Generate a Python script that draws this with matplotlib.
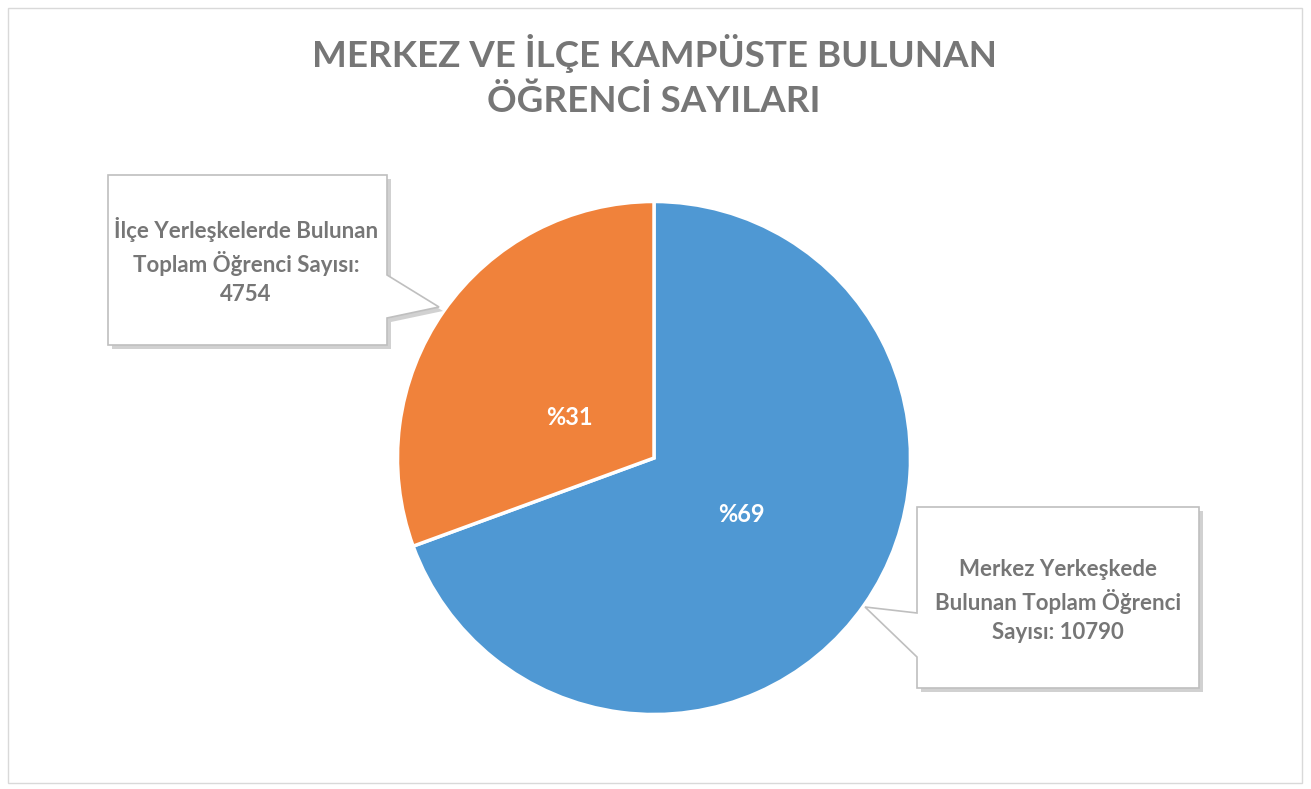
import matplotlib.pyplot as plt
from matplotlib.patches import Polygon, Rectangle

plt.rcParams['font.family'] = ['Lato', 'DejaVu Sans']

title = "MERKEZ VE İLÇE KAMPÜSTE BULUNAN\nÖĞRENCİ SAYILARI"
categories = ["Merkez Yerkeşkede Bulunan Toplam Öğrenci Sayısı",
              "İlçe Yerleşkelerde Bulunan Toplam Öğrenci Sayısı"]
values = [10790, 4754]
pct_labels = ["%69", "%31"]
callout_text = ["Merkez Yerkeşkede\nBulunan Toplam Öğrenci\nSayısı: 10790",
                "İlçe Yerleşkelerde Bulunan\nToplam Öğrenci Sayısı:\n4754"]
colors = ['#4F98D3', '#F0823B']
text_gray = '#767676'

W, H = 1311, 789
fig = plt.figure(figsize=(W / 100, H / 100), dpi=100)
ax = fig.add_axes([0, 0, 1, 1])


def py(y):
    return H - y


# chart border
ax.add_patch(Rectangle((8, py(783)), 1294, 775, fill=False, ec='#D9D9D9', lw=1))

ax.text(654, py(76), title, ha='center', va='center', fontsize=26.5,
        fontweight='bold', color=text_gray, linespacing=1.45)

wedges, _ = ax.pie(values, colors=colors, startangle=90, counterclock=False,
                   center=(654, py(458)), radius=256.5, frame=True,
                   wedgeprops=dict(edgecolor='white', linewidth=2.5))
ax.set_xlim(0, W)
ax.set_ylim(0, H)
ax.set_aspect('equal')
ax.axis('off')

ax.text(741, py(514), pct_labels[0], ha='center', va='center', fontsize=17,
        fontweight='bold', color='white')
ax.text(569, py(417), pct_labels[1], ha='center', va='center', fontsize=17,
        fontweight='bold', color='white')


def callout(pts, text, tx, ty):
    pts = [(x, py(y)) for x, y in pts]
    shadow = [(x + 4, y - 4) for x, y in pts]
    ax.add_patch(Polygon(shadow, closed=True, fc='#9A9A9A', ec='none', alpha=0.45, zorder=3))
    ax.add_patch(Polygon(pts, closed=True, fc='white', ec='#BFBFBF', lw=1.2, zorder=4))
    ax.text(tx, py(ty), text, ha='center', va='center', fontsize=16,
            fontweight='bold', color=text_gray, linespacing=1.45, zorder=5)


# left callout (orange slice)
callout([(108, 175), (387, 175), (387, 275), (439, 307), (387, 318),
         (387, 345), (108, 345)], callout_text[1], 246, 261)
# right callout (blue slice)
callout([(917, 507), (1199, 507), (1199, 688), (917, 688), (917, 657),
         (865, 607), (917, 613)], callout_text[0], 1058, 601)

fig.savefig('out.png', dpi=100)
